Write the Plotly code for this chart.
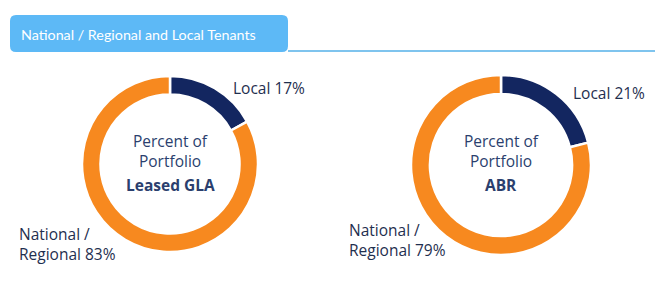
import plotly.graph_objects as go

categories = ["Local", "National / Regional"]
gla_values = [17, 83]
abr_values = [21, 79]
center_titles = ["Leased GLA", "ABR"]
header_title = "National / Regional and Local Tenants"

W, H = 665, 289
ORANGE = "#F7891F"
NAVY = "#132660"
TEXT = "#1F2F4F"
CENTER = "#2B3F6E"

def px(x):
    return x / W

def py(y):
    return 1 - y / H

fig = go.Figure()

def add_donut(values, cx, cy, r):
    fig.add_trace(go.Pie(
        labels=categories, values=values, sort=False, direction="clockwise",
        rotation=0, hole=0.79, textinfo="none", hoverinfo="label+percent",
        marker=dict(colors=[NAVY, ORANGE], line=dict(color="white", width=2.5)),
        domain=dict(x=[px(cx - r), px(cx + r)], y=[py(cy + r), py(cy - r)]),
        showlegend=False,
    ))

add_donut(gla_values, 170, 164, 88)
add_donut(abr_values, 501, 165, 90)

font_family = "Open Sans, Noto Sans, sans-serif"

# header box with rounded corners
x0, y0, x1, y1, rr = 10, 15, 288, 52, 6
path = (f"M {x0+rr},{y0} L {x1-rr},{y0} Q {x1},{y0} {x1},{y0+rr} "
        f"L {x1},{y1-rr} Q {x1},{y1} {x1-rr},{y1} L {x0+rr},{y1} "
        f"Q {x0},{y1} {x0},{y1-rr} L {x0},{y0+rr} Q {x0},{y0} {x0+rr},{y0} Z")
fig.add_shape(type="path", path=path, xref="x", yref="y",
              fillcolor="#5DB9F6", line=dict(width=0), layer="below")
fig.add_shape(type="line", x0=288, x1=655, y0=51, y1=51, xref="x", yref="y",
              line=dict(color="#7FC4EE", width=2))

LBL = 15.5
annotations = [
    dict(x=19, y=34, text=header_title, xanchor="left", yanchor="middle",
         font=dict(color="white", size=14.3, family="Lato, Open Sans, sans-serif")),
    dict(x=231, y=88, text=f"{categories[0]} {gla_values[0]}%", xanchor="left", yanchor="middle",
         font=dict(color=TEXT, size=LBL, family=font_family)),
    dict(x=17, y=244, text=f"National /<br>Regional {gla_values[1]}%", xanchor="left", yanchor="middle",
         align="left", font=dict(color=TEXT, size=LBL, family=font_family)),
    dict(x=571, y=93, text=f"{categories[0]} {abr_values[0]}%", xanchor="left", yanchor="middle",
         font=dict(color=TEXT, size=LBL, family=font_family)),
    dict(x=347, y=240, text=f"National /<br>Regional {abr_values[1]}%", xanchor="left", yanchor="middle",
         align="left", font=dict(color=TEXT, size=LBL, family=font_family)),
]
for cx, title in [(170, center_titles[0]), (501, center_titles[1])]:
    annotations.append(dict(x=cx, y=151, text="Percent of<br>Portfolio", xanchor="center",
                            yanchor="middle", align="center",
                            font=dict(color=CENTER, size=15.5, family=font_family)))
    annotations.append(dict(x=cx, y=185, text=f"<b>{title}</b>", xanchor="center",
                            yanchor="middle", font=dict(color=CENTER, size=15.5, family=font_family)))
for a in annotations:
    a.update(xref="x", yref="y", showarrow=False)

fig.update_layout(
    width=W, height=H, margin=dict(l=0, r=0, t=0, b=0),
    paper_bgcolor="white", plot_bgcolor="white",
    xaxis=dict(range=[0, W], visible=False, fixedrange=True),
    yaxis=dict(range=[H, 0], visible=False, fixedrange=True),
    annotations=annotations,
)
fig.write_html("out.html")
